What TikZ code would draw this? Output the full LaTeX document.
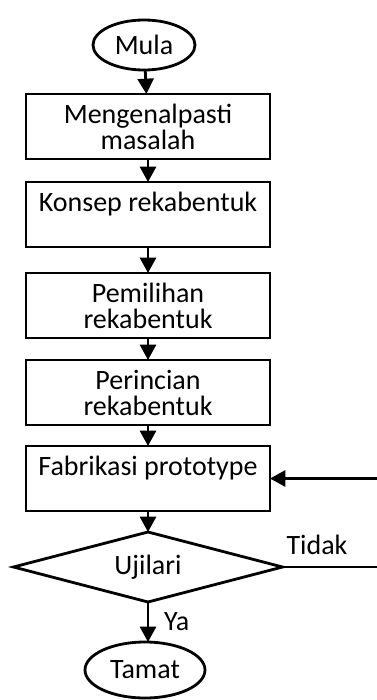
\documentclass[tikz,border=0pt]{standalone}
\usepackage{fontspec}
\setmainfont{Carlito}
\usetikzlibrary{arrows.meta,positioning,shapes.geometric,calc}

\begin{document}
\begin{tikzpicture}[
      x=0.75pt, y=-0.75pt,
      font=\fontsize{21}{19.5}\selectfont,
      node distance=16.5pt,
      box/.style={draw, line width=2.1pt, outer sep=0pt, align=center, minimum width=183pt, minimum height=48.75pt, inner sep=2pt},
      term/.style={draw, ellipse, line width=2.1pt, outer sep=0pt, inner sep=0pt},
      decide/.style={draw, diamond, aspect=3.8, line width=2.1pt, outer sep=0pt, inner sep=0pt, minimum width=201.75pt, minimum height=52.5pt},
      arrow/.style={-{Triangle[length=11.5pt,width=12pt]}, line width=2.1pt},
      lbl/.style={inner sep=2pt}
    ]
      \useasboundingbox (0,0) rectangle (377,700);
      \node[term, minimum width=76.5pt, minimum height=37.5pt] (mula) at (144,45) {Mula};
      \node[box, below=18pt of mula, xshift=3pt] (kenal) {Mengenalpasti\\masalah};
      \node[box, below=17.25pt of kenal] (konsep) {Konsep rekabentuk\\ \mbox{}};
      \node[box, below=19.5pt of konsep] (pilih) {Pemilihan\\rekabentuk};
      \node[box, below=of pilih] (perinci) {Perincian\\rekabentuk};
      \node[box, below=15.75pt of perinci] (fabrik) {Fabrikasi prototype\\ \mbox{}};
      \node[decide, below=15.75pt of fabrik] (uji) {Ujilari};
      \node[term, minimum width=90pt, minimum height=42pt, below=30pt of uji, xshift=-2.25pt] (tamat) {Tamat};
      \coordinate (balik) at (380,0);
      \draw[arrow] (mula) -- (kenal);
      \draw[arrow] (kenal) -- (konsep);
      \draw[arrow] (konsep) -- (pilih);
      \draw[arrow] (pilih) -- (perinci);
      \draw[arrow] (perinci) -- (fabrik);
      \draw[arrow] (fabrik) -- (uji);
      \draw[arrow] (uji.south) -- node[lbl, right, xshift=9pt] {Ya} (uji.south |- tamat.north);
      \draw[arrow] (uji.east) node[lbl, anchor=south west, yshift=6pt] {Tidak}
        -- (uji.east -| balik) -- (fabrik.east -| balik) -- (fabrik.east);
    \end{tikzpicture}
\end{document}
